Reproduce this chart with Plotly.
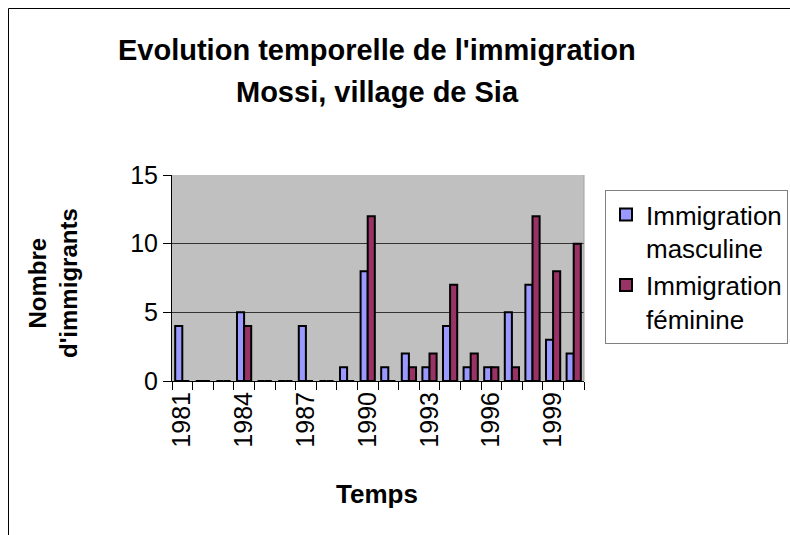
import plotly.graph_objects as go

years = [str(y) for y in range(1981, 2001)]
masculine = [4, 0, 0, 5, 0, 0, 4, 0, 1, 8, 1, 2, 1, 4, 1, 1, 5, 7, 3, 2]
feminine = [0, 0, 0, 4, 0, 0, 0, 0, 0, 12, 0, 1, 2, 7, 2, 1, 1, 12, 8, 10]
tick_labels = [y if (int(y) - 1981) % 3 == 0 else "" for y in years]
y_ticks = [0, 5, 10, 15]

FONT = "Liberation Sans, Arial, sans-serif"
W, H = 790, 535
# plot area in page pixels
PX0, PX1, PY0, PY1 = 172, 584, 175, 381
L, R, T, B = PX0, W - PX1, PY0, H - PY1
pw, ph = PX1 - PX0, PY1 - PY0


def px_x(px):
    return (px - PX0) / pw


def px_y(py):
    return (PY1 - py) / ph


fig = go.Figure()
fig.add_trace(go.Bar(x=years, y=masculine, name="Immigration<br>masculine",
                     marker=dict(color="#9999FF", line=dict(color="black", width=2))))
fig.add_trace(go.Bar(x=years, y=feminine, name="Immigration<br>féminine",
                     marker=dict(color="#993366", line=dict(color="black", width=2))))

fig.update_layout(
    width=W, height=H,
    margin=dict(l=L, r=R, t=T, b=B, autoexpand=False),
    paper_bgcolor="white",
    plot_bgcolor="#C0C0C0",
    barmode="group", bargap=0.31, bargroupgap=0,
    font=dict(family=FONT, color="black"),
    xaxis=dict(type="category", tickmode="array", tickvals=years, ticktext=tick_labels,
               tickangle=-90, tickson="boundaries", ticks="outside", ticklen=8,
               tickcolor="black", showline=True, linecolor="black", linewidth=1,
               tickfont=dict(size=25, family=FONT), showgrid=False),
    yaxis=dict(range=[0, 15], tickvals=y_ticks, ticks="outside", ticklen=8, tickcolor="black",
               showline=True, linecolor="black", linewidth=1,
               showgrid=True, gridcolor="#333333", gridwidth=1, zeroline=False,
               tickfont=dict(size=25, family=FONT)),
    legend=dict(xref="container", yref="container",
                x=605 / W, y=1 - 190 / H, xanchor="left", yanchor="top",
                bgcolor="white", bordercolor="#808080", borderwidth=1,
                font=dict(size=26, family=FONT), valign="top",
                tracegroupgap=0, itemsizing="constant"),
    showlegend=True,
)

title_lines = ["Evolution temporelle de l'immigration", "Mossi, village de Sia"]
for text, yc in zip(title_lines, [50, 92]):
    fig.add_annotation(text=f"<b>{text}</b>", xref="paper", yref="paper",
                       x=px_x(377), y=px_y(yc), xanchor="center", yanchor="middle",
                       showarrow=False, font=dict(size=29, family=FONT, color="black"))

fig.add_annotation(text="<b>Temps</b>", xref="paper", yref="paper",
                   x=px_x(377), y=px_y(494), xanchor="center", yanchor="middle",
                   showarrow=False, font=dict(size=26, family=FONT, color="black"))
fig.add_annotation(text="<b>Nombre<br>d'immigrants</b>", xref="paper", yref="paper",
                   x=px_x(53), y=px_y(283), xanchor="center", yanchor="middle",
                   textangle=-90, showarrow=False,
                   font=dict(size=24, family=FONT, color="black"))

# right border of plot area (light grey)
fig.add_shape(type="line", xref="paper", yref="paper", x0=1, x1=1, y0=0, y1=1,
              line=dict(color="#A0A0A0", width=1))
# outer chart frame (left and top edges)
fig.add_shape(type="line", xref="paper", yref="paper", x0=px_x(8.5), x1=px_x(8.5),
              y0=px_y(8.5), y1=px_y(545), line=dict(color="black", width=1))
fig.add_shape(type="line", xref="paper", yref="paper", x0=px_x(8.5), x1=px_x(800),
              y0=px_y(8.5), y1=px_y(8.5), line=dict(color="black", width=1))

fig.write_html(
    "out.html",
    config={"displayModeBar": False},
    post_script=("document.body.style.margin='0';"
                 "document.body.style.overflow='hidden';"
                 "document.documentElement.style.overflow='hidden';"),
)
